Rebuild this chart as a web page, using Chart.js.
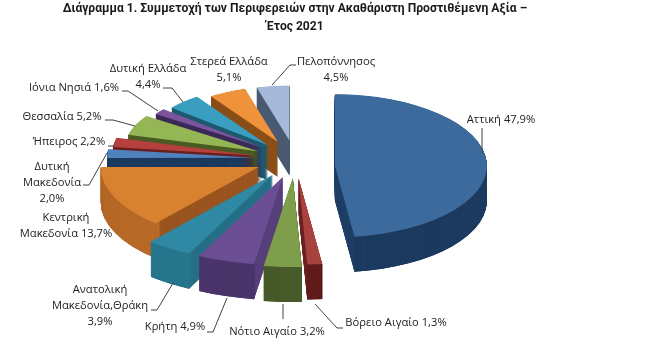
<!DOCTYPE html>
<html>
<head>
<meta charset="utf-8">
<style>
  html, body { margin: 0; padding: 0; background: #fff; }
  #wrap { width: 650px; height: 352px; }
</style>
<script src="https://cdn.jsdelivr.net/npm/chart.js@4"></script>
</head>
<body>
<div id="wrap"><canvas id="pieChart"></canvas></div>
<script>
// Data for the chart
const regionNames = ['Αττική', 'Βόρειο Αιγαίο', 'Νότιο Αιγαίο', 'Κρήτη', 'Ανατολική Μακεδονία,Θράκη', 'Κεντρική Μακεδονία', 'Δυτική Μακεδονία', 'Ήπειρος', 'Θεσσαλία', 'Ιόνια Νησιά', 'Δυτική Ελλάδα', 'Στερεά Ελλάδα', 'Πελοπόννησος'];
const regionShares = [47.9, 1.3, 3.2, 4.9, 3.9, 13.7, 2.0, 2.2, 5.2, 1.6, 4.4, 5.1, 4.5];

// Slice colours: top face, radial wall, outer wall
const topColors = ['#3c6a9c', '#a8423f', '#7f9e4b', '#6b4e94', '#2f88a4', '#d8812f', '#4f81bd', '#b5413e', '#95b654', '#7a559e', '#3a9ec0', '#ef923c', '#a6b9da'];
const sideColors = ['#1f3f66', '#6e2220', '#4c6029', '#58407c', '#256f86', '#9a5520', '#1c3a5e', '#6b1f1f', '#4a5c22', '#3c2a58', '#1f5a6e', '#8a4e18', '#4a5a72'];
const rimColors = ['#1d3a5f', '#5c1a1a', '#46582a', '#463264', '#2a7a90', '#c5732c', '#1c3a5e', '#6b1f1f', '#4a5c22', '#3c2a58', '#1f5a6e', '#8a4e18', '#4a5a72'];

// Fake perspective: every slice has its own length, Attiki also sits a bit lower
const sliceLengths = [152, 185, 190, 188, 188, 158, 148, 144, 135, 129, 125, 118, 117];
const sliceDrops = [8, 0, 0, 0, 0, 0, 0, 0, 0, 0, 0, 0, 0];

// Where the labels sit: text lines, text centre, leader line
const labelLayout = [
  { lines: ['Αττική 47,9%'], x: 501, y: 120, leader: [[482, 128], [482, 153]] },
  { lines: ['Βόρειο Αιγαίο 1,3%'], x: 396, y: 323, leader: [[343, 328], [337, 328], [315, 304]] },
  { lines: ['Νότιο Αιγαίο 3,2%'], x: 277, y: 332, leader: [[283, 319], [283, 304]] },
  { lines: ['Κρήτη 4,9%'], x: 175, y: 327, leader: [[207, 332], [213, 332], [227, 298]] },
  { lines: ['Ανατολική', 'Μακεδονία,Θράκη', '3,9%'], x: 100, y: 290, leader: [[151, 310], [157, 310], [173, 283]] },
  { lines: ['Κεντρική', 'Μακεδονία 13,7%'], x: 66, y: 218 },
  { lines: ['Δυτική', 'Μακεδονία', '2,0%'], x: 52, y: 167, leader: [[83, 185], [89, 185], [107, 153]] },
  { lines: ['Ήπειρος 2,2%'], x: 69, y: 142, leader: [[108, 146], [115, 146]] },
  { lines: ['Θεσσαλία 5,2%'], x: 62, y: 117, leader: [[105, 120], [113, 120], [135, 126]] },
  { lines: ['Ιόνια Νησιά 1,6%'], x: 74, y: 88, leader: [[122, 91], [128, 91], [158, 111]] },
  { lines: ['Δυτική Ελλάδα', '4,4%'], x: 148, y: 69, leader: [[163, 88], [172, 88], [183, 102]] },
  { lines: ['Στερεά Ελλάδα', '5,1%'], x: 229, y: 62 },
  { lines: ['Πελοπόννησος', '4,5%'], x: 336, y: 62, leader: [[296, 65], [290, 65], [272, 85]] }
];

const tilt = 0.47;
const wallDepth = 35;
const explode = 40; // the arc's own offset option also thins the slices, so move them here
const pieCentre = { x: 295, y: 159 };

// Draws the pie squashed and gives it walls, Chart.js only knows flat slices
const tiltedPie = {
  id: 'tiltedPie',
  afterDatasetsUpdate(chart) {
    chart.getDatasetMeta(0).data.forEach((arc, i) => {
      const mid = (arc.startAngle + arc.endAngle) / 2;
      arc.outerRadius = sliceLengths[i];
      arc.x += Math.cos(mid) * explode;
      arc.y += Math.sin(mid) * explode + sliceDrops[i] / tilt;
    });
  },
  beforeDatasetDraw(chart) {
    const ctx = chart.ctx;
    const arcs = chart.getDatasetMeta(0).data;
    const area = chart.chartArea;
    ctx.save();
    ctx.translate(pieCentre.x, pieCentre.y);
    ctx.scale(1, tilt);
    ctx.translate(-(area.left + area.right) / 2, -(area.top + area.bottom) / 2);

    // back to front, so near walls cover far ones
    const order = arcs.map((arc, i) => i).sort((a, b) => {
      return Math.sin((arcs[a].startAngle + arcs[a].endAngle) / 2) - Math.sin((arcs[b].startAngle + arcs[b].endAngle) / 2);
    });
    order.forEach(i => {
      const arc = arcs[i];
      const options = arc.options;
      const inner = arc.innerRadius;
      for (let d = wallDepth; d > 0; d -= 0.5) {
        ctx.save();
        ctx.translate(0, d / tilt);
        arc.options = Object.assign({}, options, { backgroundColor: sideColors[i] });
        arc.draw(ctx);
        arc.innerRadius = arc.outerRadius - 6;
        arc.options = Object.assign({}, options, { backgroundColor: rimColors[i] });
        arc.draw(ctx);
        arc.innerRadius = inner;
        ctx.restore();
      }
      arc.options = options;
    });
  },
  afterDatasetDraw(chart) {
    chart.ctx.restore();
  },
  afterDraw(chart) {
    const ctx = chart.ctx;
    ctx.save();
    ctx.strokeStyle = '#404040';
    ctx.lineWidth = 1;
    ctx.fillStyle = '#222222';
    ctx.font = '11.2px "Open Sans"';
    ctx.textAlign = 'center';
    ctx.textBaseline = 'middle';
    labelLayout.forEach(label => {
      label.lines.forEach((line, n) => ctx.fillText(line, label.x, label.y + n * 16));
      if (label.leader) {
        ctx.beginPath();
        label.leader.forEach((p, n) => n ? ctx.lineTo(p[0], p[1]) : ctx.moveTo(p[0], p[1]));
        ctx.stroke();
      }
    });
    ctx.restore();
  }
};

const pieChart = new Chart(document.getElementById('pieChart'), {
  type: 'pie',
  data: {
    labels: regionNames,
    datasets: [{
      data: regionShares,
      backgroundColor: topColors,
      borderWidth: 0,
      clip: false
    }]
  },
  options: {
    responsive: true,
    maintainAspectRatio: false,
    animation: false,
    layout: { padding: { right: 60 } },
    plugins: {
      legend: { display: false },
      tooltip: { enabled: false },
      title: {
        display: true,
        text: ['Διάγραμμα 1. Συμμετοχή των Περιφερειών στην Ακαθάριστη Προστιθέμενη Αξία –', 'Έτος 2021'],
        color: '#1a1a1a',
        font: { family: 'Roboto', size: 12.1, weight: 'bold', lineHeight: 1.5 },
        padding: 0
      }
    }
  },
  plugins: [tiltedPie]
});
</script>
</body>
</html>
